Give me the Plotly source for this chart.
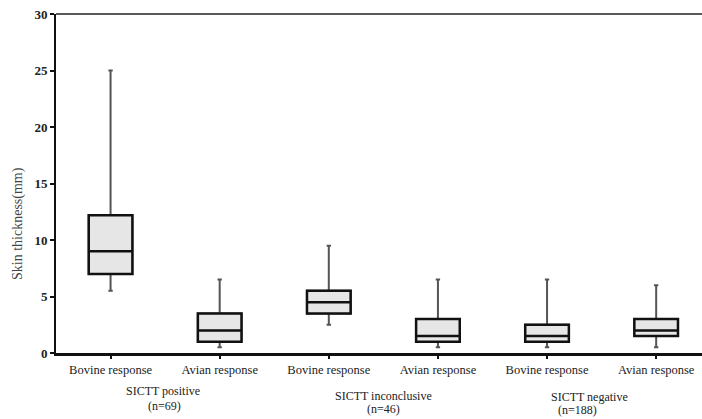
import plotly.graph_objects as go

categories = ["Bovine response", "Avian response", "Bovine response",
              "Avian response", "Bovine response", "Avian response"]
lower_whisker = [5.5, 0.5, 2.5, 0.5, 0.5, 0.5]
q1 = [7.0, 1.0, 3.5, 1.0, 1.0, 1.5]
median = [9.0, 2.0, 4.5, 1.5, 1.5, 2.0]
q3 = [12.2, 3.5, 5.5, 3.0, 2.5, 3.0]
upper_whisker = [25.0, 6.5, 9.5, 6.5, 6.5, 6.0]
group_names = ["SICTT positive", "SICTT inconclusive", "SICTT negative"]
group_counts = ["(n=69)", "(n=46)", "(n=188)"]
y_ticks = [0, 5, 10, 15, 20, 25, 30]
y_title = "Skin thickness(mm)"

xpos = list(range(len(categories)))
FONT = "Liberation Serif, Times New Roman, serif"

fig = go.Figure()
# whiskers (gray)
fig.add_trace(go.Box(
    x=xpos, lowerfence=lower_whisker, q1=q1, median=median, q3=q3,
    upperfence=upper_whisker, width=0.4, whiskerwidth=0.1,
    fillcolor="#e6e6e6", line=dict(color="#555555", width=2),
    boxpoints=False, showlegend=False, hoverinfo="skip"))
# box outline (black)
fig.add_trace(go.Box(
    x=xpos, lowerfence=q1, q1=q1, median=median, q3=q3,
    upperfence=q3, width=0.4, whiskerwidth=0,
    fillcolor="#e6e6e6", line=dict(color="#111111", width=2.5),
    boxpoints=False, showlegend=False))

# plot area: top 14px, bottom 353px (height 339), left 56px, width 646px
PH = 339.0
name_x = [0.48, 2.5, 4.39]
count_x = [0.49, 2.5, 4.28]
name_y = [-(391 - 353) / PH, -(396 - 353) / PH, -(397 - 353) / PH]
count_y = [-(406 - 353) / PH, -(409 - 353) / PH, -(410 - 353) / PH]
for nx, cx, ny, cy, name, cnt in zip(name_x, count_x, name_y, count_y, group_names, group_counts):
    fig.add_annotation(x=nx, y=ny, xref="x", yref="paper", text=name,
                       showarrow=False, yanchor="middle",
                       font=dict(family=FONT, size=12, color="#222222"))
    fig.add_annotation(x=cx, y=cy, xref="x", yref="paper", text=cnt,
                       showarrow=False, yanchor="middle",
                       font=dict(family=FONT, size=12, color="#222222"))

fig.add_annotation(x=(18 - 56) / 646.0, y=(353 - 224) / PH, xref="paper", yref="paper",
                   text=y_title, textangle=-90, showarrow=False,
                   xanchor="center", yanchor="middle",
                   font=dict(family=FONT, size=14, color="#444444"))

fig.add_shape(type="line", xref="paper", yref="paper", x0=0, x1=1, y0=1, y1=1,
              line=dict(color="#222222", width=1.5))

fig.update_layout(
    width=702, height=419,
    margin=dict(l=56, r=0, t=14, b=66, autoexpand=False),
    plot_bgcolor="white", paper_bgcolor="white",
    boxmode="overlay",
    font=dict(family=FONT, color="#222222"),
    xaxis=dict(tickmode="array", tickvals=xpos, ticktext=categories,
               range=[-0.5, 5.42], showline=True, linecolor="#111111", linewidth=2.5,
               ticks="outside", ticklen=3, tickwidth=2, tickcolor="#111111",
               showgrid=False, zeroline=False,
               tickfont=dict(family=FONT, size=12.5, color="#222222")),
    yaxis=dict(range=[0, 30], tickvals=y_ticks, showline=True, linecolor="#111111",
               linewidth=2, ticks="outside", ticklen=4, tickwidth=1.5,
               tickcolor="#111111", showgrid=False, zeroline=False,
               tickfont=dict(family=FONT, size=13, color="#222222", weight="bold")),
)

fig.write_html("out.html", config={"displayModeBar": False},
               post_script="document.body.style.margin='0';")
